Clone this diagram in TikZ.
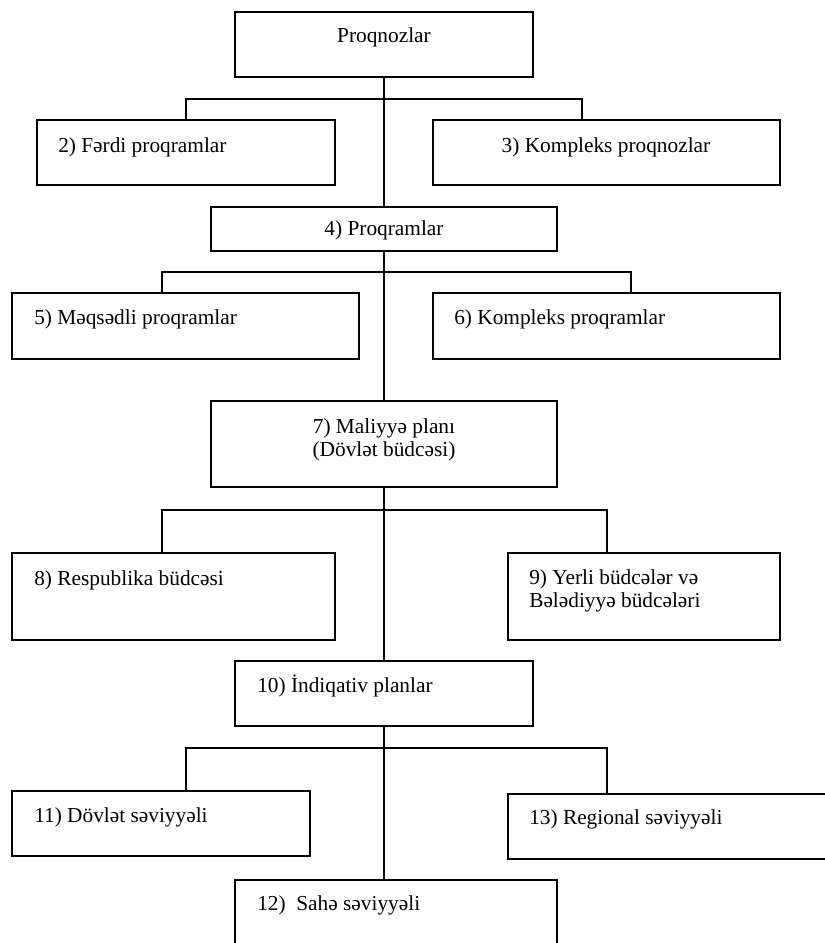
\documentclass[tikz,border=0pt]{standalone}
\usepackage{fontspec}
\setmainfont{Liberation Serif}
\usetikzlibrary{calc}
\begin{document}
\begin{tikzpicture}[x=0.75pt,y=-0.75pt,
  bx/.style 2 args={draw, line width=1.15pt, rectangle, inner sep=0pt,
    minimum width=#1*0.75pt, minimum height=#2*0.75pt},
  lbl/.style={inner sep=0pt, font=\fontsize{16}{17.5}\selectfont},
  lblw/.style={lbl, anchor=west, align=left},
  cn/.style={line width=1.1pt}]
\useasboundingbox (0,0) rectangle (825,943);
\clip (0,0) rectangle (825,943);

% boxes
\node[bx={298}{65}] (b1) at (384,44.5) {};
\node[bx={298}{65}] (b2) at (186,152.5) {};
\node[bx={347}{65}] (b3) at (606.5,152.5) {};
\node[bx={346}{44}] (b4) at (384,229) {};
\node[bx={347}{66}] (b5) at (185.5,326) {};
\node[bx={347}{66}] (b6) at (606.5,326) {};
\node[bx={346}{86}] (b7) at (384,444) {};
\node[bx={323}{87}] (b8) at (173.5,596.5) {};
\node[bx={272}{87}] (b9) at (644,596.5) {};
\node[bx={298}{65}] (b10) at (384,693.5) {};
\node[bx={298}{65}] (b11) at (161,823.5) {};
\node[bx={322}{80}] (b12) at (396,920) {};
\node[bx={352}{65}] (b13) at (684,826.5) {};

% texts
\node[lbl] (t1) at (384,37) {Proqnozlar};
\node[lblw] (t2) at (58,147) {2) Fərdi proqramlar};
\node[lbl] (t3) at (606,147) {3) Kompleks proqnozlar};
\node[lbl] (t4) at (384,230) {4) Proqramlar};
\node[lblw] (t5) at (34,319) {5) Məqsədli proqramlar};
\node[lblw] (t6) at (454,319) {6) Kompleks proqramlar};
\node[lbl, align=center] (t7) at (384,440) {7) Maliyyə planı\\(Dövlət büdcəsi)};
\node[lblw] (t8) at (34,580) {8) Respublika büdcəsi};
\node[lblw] (t9) at (529,591) {9) Yerli büdcələr və\\Bələdiyyə büdcələri};
\node[lblw] (t10) at (257,686) {10) İndiqativ planlar};
\node[lblw] (t11) at (34,817) {11) Dövlət səviyyəli};
\node[lblw] (t12) at (257,905) {12)\ \ Sahə səviyyəli};
\node[lblw] (t13) at (529,819) {13) Regional səviyyəli};

% junction coordinates
\coordinate (h1r) at (582,99);
\coordinate (h2l) at (162,272);
\coordinate (h2r) at (631,272);
\coordinate (h3l) at (162,510);
\coordinate (h3r) at (607,510);
\coordinate (h4l) at (186,748);
\coordinate (h4r) at (607,748);

% trunk
\draw[cn] (b1.south) -- (b4.north);
\draw[cn] (b4.south) -- (b7.north);
\draw[cn] (b7.south) -- (b10.north);
\draw[cn] (b10.south) -- (b10.south |- b12.north);

% branches
\draw[cn] (b2.north) -- (b2.north |- h1r) -- (h1r) -- (h1r |- b3.north);
\draw[cn] (h2l |- b5.north) -- (h2l) -- (h2r) -- (h2r |- b6.north);
\draw[cn] (h3l |- b8.north) -- (h3l) -- (h3r) -- (h3r |- b9.north);
\draw[cn] (h4l |- b11.north) -- (h4l) -- (h4r) -- (h4r |- b13.north);
\end{tikzpicture}
\end{document}
